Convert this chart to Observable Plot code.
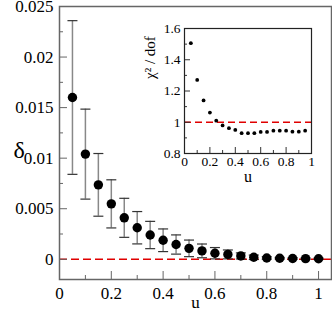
<!DOCTYPE html>
<html><head><meta charset="utf-8">
<script src="https://cdn.jsdelivr.net/npm/d3@7"></script>
<script src="https://cdn.jsdelivr.net/npm/@observablehq/plot@0.6"></script>
<style>
body{margin:0;background:#fff}
#wrap{position:relative;width:332px;height:311px}
#wrap svg{position:absolute;left:0;top:0}
#wrap svg text{font-family:"Liberation Serif","Times New Roman",serif}
</style>
</head><body><div id="wrap"></div>
<script>
// main panel data
const u = [0.05,0.1,0.15,0.2,0.25,0.3,0.35,0.4,0.45,0.5,0.55,0.6,0.65,0.7,0.75,0.8,0.85,0.9,0.95,1.0];
const delta = [0.0160,0.0104,0.00736,0.00548,0.00410,0.00312,0.00240,0.00188,0.00146,0.00108,0.00083,0.00060,0.00048,0.00033,0.00020,0.00013,0.00010,0.00008,0.00006,0.00005];
const deltaErr = [0.0076,0.00445,0.0031,0.00238,0.00193,0.00160,0.00135,0.00112,0.00095,0.00082,0.00068,0.00056,0.00044,0.00030,0.00022,0.00012,0.00008,0.00008,0.00007,0.00007];
// inset data
const insetU = [0.05,0.1,0.15,0.2,0.25,0.3,0.35,0.4,0.45,0.5,0.55,0.6,0.65,0.7,0.75,0.8,0.85,0.9,0.95];
const chi2 = [1.506,1.271,1.140,1.062,1.010,0.980,0.962,0.951,0.930,0.930,0.930,0.938,0.938,0.946,0.946,0.946,0.940,0.940,0.946];
// ticks
const mainXTicks = [0,0.2,0.4,0.6,0.8,1];
const mainXMinor = [0.1,0.3,0.5,0.7,0.9];
const mainYTicks = [0,0.005,0.01,0.015,0.02,0.025];
const mainYMinor = [0.0025,0.0075,0.0125,0.0175,0.0225];
const insetXTicks = [0,0.2,0.4,0.6,0.8,1];
const insetXMinor = [0.1,0.3,0.5,0.7,0.9];
const insetYTicks = [0.8,1,1.2,1.4,1.6];
const insetYMinor = [0.9,1.1,1.3,1.5];

const FONT = "Liberation Serif";
const cap = {draw(ctx, size){const w = Math.sqrt(size/Math.PI); ctx.moveTo(-w,0); ctx.lineTo(w,0);}};
const rows = u.map((x,i)=>({u:x, d:delta[i], e:deltaErr[i]}));
const irows = insetU.map((x,i)=>({u:x, c:chi2[i]}));
const T = {fontFamily:FONT, fill:"black"};

const main = Plot.plot({
  width:332, height:311, marginLeft:59, marginRight:1, marginTop:6, marginBottom:32,
  x:{domain:[0,1.05], axis:null}, y:{domain:[-0.002,0.025], axis:null},
  style:{fontFamily:FONT, fontSize:"17px", background:"transparent", color:"black"},
  marks:[
    Plot.ruleY([0], {stroke:"#e00000", strokeWidth:1.5, strokeDasharray:"8,4"}),
    Plot.ruleX(rows, {x:"u", y1:d=>d.d-d.e, y2:d=>d.d+d.e, stroke:"#888", strokeWidth:1.5}),
    Plot.dot(rows, {x:"u", y:d=>d.d+d.e, symbol:cap, r:5, stroke:"#333", strokeWidth:1.2}),
    Plot.dot(rows, {x:"u", y:d=>d.d-d.e, symbol:cap, r:5, stroke:"#333", strokeWidth:1.2}),
    Plot.dot(rows, {x:"u", y:"d", r:4.7, fill:"black"}),
    Plot.axisY(mainYTicks, {text:null, tickSize:8, dx:8, label:null, stroke:"#666"}),
    Plot.axisY(mainYMinor, {text:null, tickSize:4, dx:4, label:null, stroke:"#666"}),
    Plot.axisX(mainXTicks, {text:null, tickSize:8, dy:-8, label:null, stroke:"#666"}),
    Plot.axisX(mainXMinor, {text:null, tickSize:4, dy:-4, label:null, stroke:"#666"}),
    Plot.text(mainYTicks, {...T, y:d=>d, text:d=>String(d), frameAnchor:"left", textAnchor:"end", dx:-6, lineAnchor:"middle", fontSize:17}),
    Plot.text(mainXTicks, {...T, x:d=>d, text:d=>String(d), frameAnchor:"bottom", lineAnchor:"top", dy:7, fontSize:17}),
    Plot.text(["u"], {...T, frameAnchor:"bottom", dy:23, lineAnchor:"middle", fontSize:17}),
    Plot.text(["δ"], {...T, frameAnchor:"left", dx:-46, dy:7, lineAnchor:"middle", fontSize:24}),
    Plot.frame({stroke:"#666", strokeWidth:1.5})
  ]
});

const inset = Plot.plot({
  width:332, height:311, marginLeft:184, marginRight:21, marginTop:28, marginBottom:158,
  x:{domain:[0,1], axis:null}, y:{domain:[0.8,1.6], axis:null},
  style:{fontFamily:FONT, fontSize:"13px", background:"transparent", color:"black"},
  marks:[
    Plot.frame({fill:"white"}),
    Plot.ruleY([1], {stroke:"#e00000", strokeWidth:1.5, strokeDasharray:"7,4"}),
    Plot.dot(irows, {x:"u", y:"c", r:1.9, fill:"black"}),
    Plot.axisY(insetYTicks, {text:null, tickSize:6, dx:6, label:null, stroke:"#333"}),
    Plot.axisY(insetYMinor, {text:null, tickSize:3, dx:3, label:null, stroke:"#333"}),
    Plot.axisX(insetXTicks, {text:null, tickSize:6, dy:-6, label:null, stroke:"#333"}),
    Plot.axisX(insetXMinor, {text:null, tickSize:3, dy:-3, label:null, stroke:"#333"}),
    Plot.text(insetYTicks, {...T, y:d=>d, text:d=>String(d), frameAnchor:"left", textAnchor:"end", dx:-4, lineAnchor:"middle", fontSize:13.5}),
    Plot.text(insetXTicks, {...T, x:d=>d, text:d=>String(d), frameAnchor:"bottom", lineAnchor:"top", dy:3, fontSize:13.5}),
    Plot.text(["u"], {...T, frameAnchor:"bottom", dy:23, lineAnchor:"middle", fontSize:16}),
    Plot.text(["χ² / dof"], {...T, frameAnchor:"left", dx:-34, dy:-12, rotate:-90, lineAnchor:"middle", fontSize:15}),
    Plot.frame({stroke:"#222", strokeWidth:1.2})
  ]
});

const wrap = document.getElementById("wrap");
wrap.appendChild(main);
wrap.appendChild(inset);
</script>
</body></html>
